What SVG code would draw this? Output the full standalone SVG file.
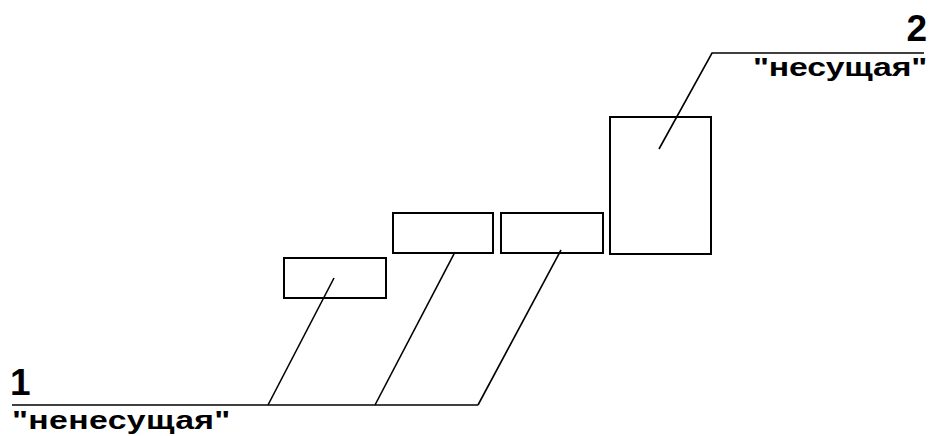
<svg xmlns="http://www.w3.org/2000/svg" width="930" height="436" viewBox="0 0 930 436">
<style>
.box{fill:none;stroke:#000;stroke-width:2}
.ln{fill:none;stroke:#000;stroke-width:1.6}
.num{font-family:"Liberation Sans",Arial,sans-serif;font-weight:bold;font-size:37px;fill:#000}
.lbl{font-family:"Liberation Sans",Arial,sans-serif;font-weight:bold;font-size:26px;fill:#000}
</style>
<rect width="930" height="436" fill="#fff"/>
<g id="connectors">
<polyline class="ln" points="12,405 478,405"/>
<line class="ln" x1="268" y1="405" x2="334" y2="278"/>
<line class="ln" x1="375" y1="405" x2="455" y2="252"/>
<line class="ln" x1="478" y1="405" x2="561" y2="250"/>
<polyline class="ln" points="659,149 712,53 924,53"/>
</g>
<g id="boxA"><rect class="box" x="284" y="258" width="102" height="40"/></g>
<g id="boxB"><rect class="box" x="393" y="213" width="100" height="40"/></g>
<g id="boxC"><rect class="box" x="501" y="213" width="102" height="40"/></g>
<g id="boxD"><rect class="box" x="610" y="117" width="101" height="137"/></g>
<g id="label1">
<text class="num" x="10" y="395">1</text>
<text class="lbl" transform="translate(12,429) scale(1.3,1)" x="0" y="0" textLength="168" lengthAdjust="spacing">"ненесущая"</text>
</g>
<g id="label2">
<text class="num" x="927" y="41" text-anchor="end">2</text>
<text class="lbl" transform="translate(753,76) scale(1.3,1)" x="0" y="0" textLength="134" lengthAdjust="spacing">"несущая"</text>
</g>
</svg>
